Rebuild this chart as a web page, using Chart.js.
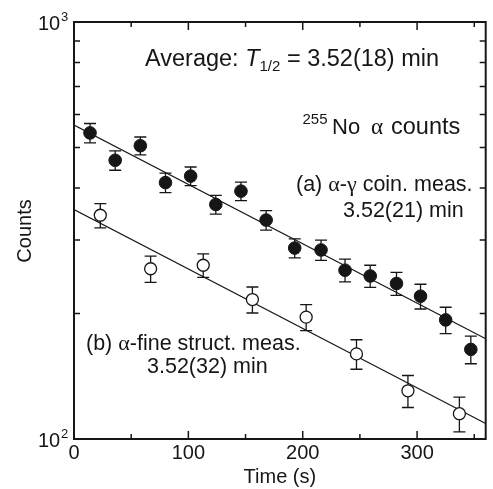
<!DOCTYPE html>
<html><head><meta charset="utf-8">
<script src="https://cdn.jsdelivr.net/npm/chart.js@4.4.1/dist/chart.umd.min.js"></script>
<style>html,body{margin:0;padding:0;background:#fff;}canvas{display:block;}</style>
</head><body>
<canvas id="c" width="493" height="489"></canvas>
<script>
// ---- data ----
const timeA   = [14, 36, 58, 80, 102, 124, 146, 168, 193, 216, 237, 259, 282, 303, 325, 347];
const countsA = [542, 466, 505, 412, 427, 365, 393, 335, 287, 284, 254, 246, 236, 220, 193, 164];
const errA    = [29, 25, 25, 22, 22, 19, 20, 18, 15, 16, 16, 15, 15, 15, 14, 12.5];
const timeB   = [23, 67, 113, 156, 203, 247, 292, 337];
const countsB = [344, 256, 261, 216, 196, 160, 130.5, 115];
const errB    = [23, 18.5, 17, 15.5, 14, 13, 11.5, 11];
const fitTime = [0, 360];
const fitA    = [566, 174];
const fitB    = [355, 109];
const xTickLabels = [0, 100, 200, 300];
const xMinorTicks = [50, 150, 250, 350];
const yTickValues = [100, 1000];
const yTickExp    = ['2', '3'];
const yMinorTicks = [200, 300, 400, 500, 600, 700, 800, 900];

const INK = '#161616';
const SANS = '"Liberation Sans", Arial, sans-serif';
const SERIF = '"Liberation Serif", "Times New Roman", serif';

function pts(xs, ys) { return xs.map((x, i) => ({x: x, y: ys[i]})); }

function rich(ctx, x, y, parts) {
  let cx = x;
  for (const p of parts) {
    if (p.x !== undefined) cx = p.x;
    ctx.font = p.f;
    ctx.fillText(p.t, cx, y + (p.dy || 0));
    cx += ctx.measureText(p.t).width;
  }
}

const decor = {
  id: 'decor',
  beforeDatasetsDraw(chart) {
    const ctx = chart.ctx, xs = chart.scales.x, ys = chart.scales.y;
    ctx.save();
    ctx.strokeStyle = INK; ctx.lineWidth = 1.3;
    const sets = [[timeA, countsA, errA], [timeB, countsB, errB]];
    for (const [t, v, e] of sets) {
      for (let i = 0; i < t.length; i++) {
        const px = xs.getPixelForValue(t[i]);
        const y1 = ys.getPixelForValue(v[i] + e[i]);
        const y2 = ys.getPixelForValue(v[i] - e[i]);
        ctx.beginPath();
        ctx.moveTo(px, y1); ctx.lineTo(px, y2);
        ctx.moveTo(px - 6, y1); ctx.lineTo(px + 6, y1);
        ctx.moveTo(px - 6, y2); ctx.lineTo(px + 6, y2);
        ctx.stroke();
      }
    }
    ctx.restore();
  },
  afterDraw(chart) {
    const ctx = chart.ctx, xs = chart.scales.x, ys = chart.scales.y;
    const a = chart.chartArea;
    ctx.save();
    ctx.strokeStyle = INK; ctx.fillStyle = INK;
    // frame
    ctx.lineWidth = 2;
    ctx.strokeRect(a.left, a.top, a.right - a.left, a.bottom - a.top);
    // ticks
    ctx.lineWidth = 1.5;
    ctx.beginPath();
    for (const v of xTickLabels) {
      const p = xs.getPixelForValue(v);
      ctx.moveTo(p, a.bottom); ctx.lineTo(p, a.bottom - 8);
      ctx.moveTo(p, a.top); ctx.lineTo(p, a.top + 8);
    }
    for (const v of xMinorTicks) {
      const p = xs.getPixelForValue(v);
      ctx.moveTo(p, a.bottom); ctx.lineTo(p, a.bottom - 5);
      ctx.moveTo(p, a.top); ctx.lineTo(p, a.top + 5);
    }
    for (const v of yMinorTicks) {
      const p = ys.getPixelForValue(v);
      ctx.moveTo(a.left, p); ctx.lineTo(a.left + 6, p);
      ctx.moveTo(a.right, p); ctx.lineTo(a.right - 6, p);
    }
    ctx.stroke();
    // x tick labels
    ctx.font = '20px ' + SANS;
    ctx.textAlign = 'center'; ctx.textBaseline = 'alphabetic';
    for (const v of xTickLabels) {
      ctx.fillText(String(v), xs.getPixelForValue(v), 459);
    }
    // x title
    ctx.fillText('Time (s)', (a.left + a.right) / 2, 483);
    // y tick labels
    ctx.textAlign = 'left';
    yTickValues.forEach((v, i) => {
      const p = ys.getPixelForValue(v);
      ctx.font = '20px ' + SANS;
      ctx.fillText('10', 38, p + 7.5);
      ctx.font = '13px ' + SANS;
      ctx.fillText(yTickExp[i], 61, p - 1);
    });
    // y title
    ctx.save();
    ctx.translate(31, 231);
    ctx.rotate(-Math.PI / 2);
    ctx.textAlign = 'center';
    ctx.font = '20px ' + SANS;
    ctx.fillText('Counts', 0, 0);
    ctx.restore();
    // annotations
    ctx.textAlign = 'left';
    const F = (s) => s + 'px ' + SANS;
    const G = (s) => s + 'px ' + SERIF;
    rich(ctx, 145, 66, [
      {t: 'Average: ', f: F(23.5)},
      {t: 'T', f: 'italic ' + F(23.5)},
      {t: '1/2', f: F(15), dy: 5},
      {t: ' = 3.52(18) min', f: F(23.5)}
    ]);
    rich(ctx, 302.5, 134, [
      {t: '255', f: F(15), dy: -10},
      {t: 'No', f: F(22), x: 332},
      {t: '\u03b1', f: G(23), x: 371},
      {t: 'counts', f: F(23.5), x: 391}
    ]);
    rich(ctx, 296, 191, [
      {t: '(a) ', f: F(21.5)},
      {t: '\u03b1', f: G(22)},
      {t: '-', f: F(21.5)},
      {t: '\u03b3', f: G(22)},
      {t: ' coin. meas.', f: F(21.5)}
    ]);
    rich(ctx, 343, 217, [{t: '3.52(21) min', f: F(21.5)}]);
    rich(ctx, 86, 350, [
      {t: '(b) ', f: F(21.5)},
      {t: '\u03b1', f: G(22)},
      {t: '-fine struct. meas.', f: F(21.5)}
    ]);
    rich(ctx, 147, 373, [{t: '3.52(32) min', f: F(21.5)}]);
    ctx.restore();
  }
};

new Chart(document.getElementById('c'), {
  type: 'scatter',
  data: {
    datasets: [
      {label: 'fit a', type: 'line', data: pts(fitTime, fitA), borderColor: INK, borderWidth: 1.1,
       pointRadius: 0, fill: false, order: 3},
      {label: 'fit b', type: 'line', data: pts(fitTime, fitB), borderColor: INK, borderWidth: 1.1,
       pointRadius: 0, fill: false, order: 3},
      {label: '(a)', data: pts(timeA, countsA), backgroundColor: INK, borderColor: INK,
       borderWidth: 1, pointRadius: 6.3, order: 1},
      {label: '(b)', data: pts(timeB, countsB), backgroundColor: '#ffffff', borderColor: INK,
       borderWidth: 1.3, pointRadius: 6, order: 1}
    ]
  },
  options: {
    responsive: false,
    animation: false,
    devicePixelRatio: 1,
    layout: {padding: {top: 22, right: 2, left: 0, bottom: 0}},
    plugins: {legend: {display: false}, tooltip: {enabled: false}},
    scales: {
      x: {
        type: 'linear', min: 0, max: 360,
        grid: {display: false}, border: {display: false},
        ticks: {display: false},
        afterFit(s) { s.height = 50; }
      },
      y: {
        type: 'logarithmic', min: 100, max: 1000,
        grid: {display: false}, border: {display: false},
        ticks: {display: false},
        afterFit(s) { s.width = 74; }
      }
    }
  },
  plugins: [decor]
});
</script>
</body></html>
